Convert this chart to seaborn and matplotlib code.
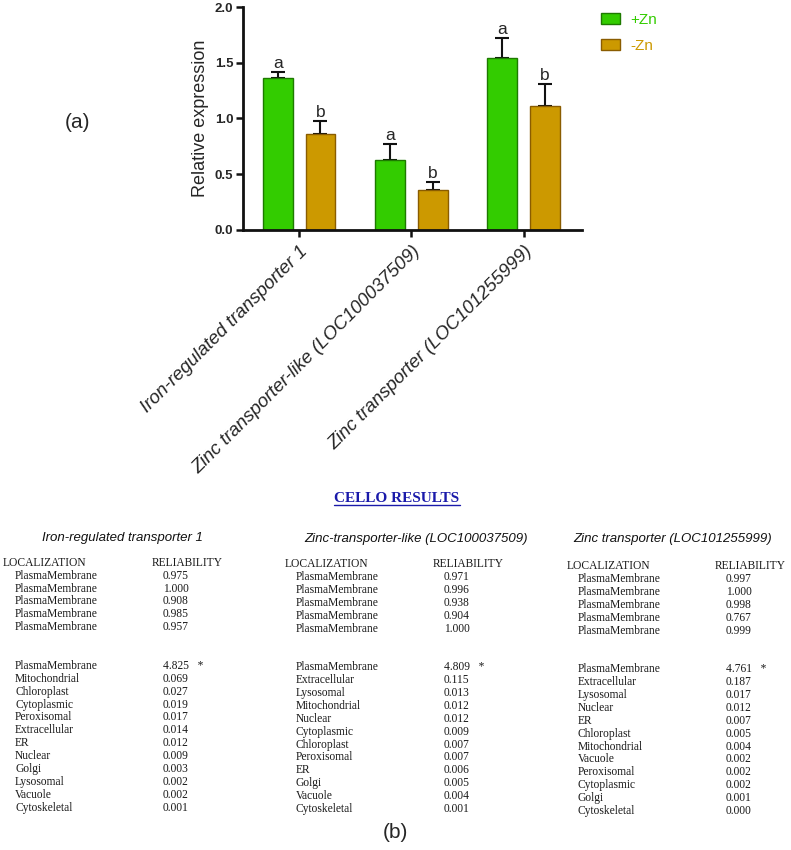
import matplotlib
matplotlib.use("Agg")
import matplotlib.pyplot as plt
import seaborn as sns
import pandas as pd
from matplotlib.patches import Patch
from matplotlib.lines import Line2D

# (a) bar chart data
GENES = [
    "Iron-regulated transporter 1",
    "Zinc transporter-like (LOC100037509)",
    "Zinc transporter (LOC101255999)",
]
TREATMENTS = ["+Zn", "-Zn"]
MEAN_PLUS_ZN = [1.36, 0.63, 1.54]
MEAN_MINUS_ZN = [0.86, 0.36, 1.11]
ERR_PLUS_ZN = [0.06, 0.14, 0.18]
ERR_MINUS_ZN = [0.12, 0.07, 0.20]
LETTERS_PLUS_ZN = ["a", "a", "a"]
LETTERS_MINUS_ZN = ["b", "b", "b"]
Y_TICKS = [0.0, 0.5, 1.0, 1.5, 2.0]

# (b) CELLO results tables
TABLE_TITLES = [
    "Iron-regulated transporter 1",
    "Zinc-transporter-like (LOC100037509)",
    "Zinc transporter (LOC101255999)",
]
TOP_LOC = ["PlasmaMembrane"] * 5
TOP_REL_1 = ["0.975", "1.000", "0.908", "0.985", "0.957"]
TOP_REL_2 = ["0.971", "0.996", "0.938", "0.904", "1.000"]
TOP_REL_3 = ["0.997", "1.000", "0.998", "0.767", "0.999"]
LOC_1 = ["PlasmaMembrane", "Mitochondrial", "Chloroplast", "Cytoplasmic", "Peroxisomal",
         "Extracellular", "ER", "Nuclear", "Golgi", "Lysosomal", "Vacuole", "Cytoskeletal"]
REL_1 = ["4.825", "0.069", "0.027", "0.019", "0.017", "0.014", "0.012", "0.009",
         "0.003", "0.002", "0.002", "0.001"]
LOC_2 = ["PlasmaMembrane", "Extracellular", "Lysosomal", "Mitochondrial", "Nuclear",
         "Cytoplasmic", "Chloroplast", "Peroxisomal", "ER", "Golgi", "Vacuole", "Cytoskeletal"]
REL_2 = ["4.809", "0.115", "0.013", "0.012", "0.012", "0.009", "0.007", "0.007",
         "0.006", "0.005", "0.004", "0.001"]
LOC_3 = ["PlasmaMembrane", "Extracellular", "Lysosomal", "Nuclear", "ER", "Chloroplast",
         "Mitochondrial", "Vacuole", "Peroxisomal", "Cytoplasmic", "Golgi", "Cytoskeletal"]
REL_3 = ["4.761", "0.187", "0.017", "0.012", "0.007", "0.005", "0.004", "0.002",
         "0.002", "0.002", "0.001", "0.000"]

GREEN = "#33cc00"
ORANGE = "#cc9900"
EDGE = {"+Zn": "#1e7a00", "-Zn": "#8a5c00"}

W, H = 791, 850


def px(x, y):
    return x / W, 1 - y / H


sns.set_style("white")
plt.rcParams["font.family"] = ["Liberation Sans", "DejaVu Sans"]

fig = plt.figure(figsize=(W / 100, H / 100), dpi=100)
ax = fig.add_axes([243 / W, 1 - 230 / H, (582 - 243) / W, (230 - 7) / H])

df = pd.DataFrame({
    "gene": GENES * 2,
    "treatment": [TREATMENTS[0]] * 3 + [TREATMENTS[1]] * 3,
    "value": MEAN_PLUS_ZN + MEAN_MINUS_ZN,
})
sns.barplot(data=df, x="gene", y="value", hue="treatment", order=GENES,
            hue_order=TREATMENTS, palette=[GREEN, ORANGE], width=0.76, gap=0.3,
            errorbar=None, legend=False, saturation=1, ax=ax)

errs = [ERR_PLUS_ZN, ERR_MINUS_ZN]
letters = [LETTERS_PLUS_ZN, LETTERS_MINUS_ZN]
bar_containers = list(ax.containers)
for k, cont in enumerate(bar_containers):
    xs, tops = [], []
    for p in cont.patches:
        p.set_edgecolor(EDGE[TREATMENTS[k]])
        p.set_linewidth(1.0)
        p.set_zorder(2)
        xs.append(p.get_x() + p.get_width() / 2)
        tops.append(p.get_height())
    ax.errorbar(xs, tops, yerr=[[0] * len(xs), errs[k]], fmt="none", ecolor="#111111",
                elinewidth=1.5, capsize=5, capthick=1.5, zorder=1)
    for x, t, e, lab in zip(xs, tops, errs[k], letters[k]):
        ax.text(x, t + e + 0.01, lab, ha="center", va="bottom", fontsize=12.5)

ax.set_ylim(0, 2.0)
ax.set_xlim(-0.5, 2.52)
ax.set_yticks(Y_TICKS)
ax.set_yticklabels([f"{v:.1f}" for v in Y_TICKS], fontweight="bold", fontsize=9.5)
ax.set_xticks(range(len(GENES)))
ax.set_xticklabels(GENES, rotation=45, ha="right", rotation_mode="anchor",
                   fontstyle="italic", fontsize=13.5)
ax.set_xlabel("")
ax.set_ylabel("Relative expression", fontsize=13, labelpad=4)
ax.tick_params(axis="both", direction="out", length=5, width=1.8, color="#111111",
               bottom=True, left=True)
ax.tick_params(axis="y", pad=2)
ax.tick_params(axis="x", pad=4)
sns.despine(ax=ax)
for s in ["left", "bottom"]:
    ax.spines[s].set_linewidth(2)
    ax.spines[s].set_color("#111111")

handles = [Patch(facecolor=GREEN, edgecolor=EDGE["+Zn"]),
           Patch(facecolor=ORANGE, edgecolor=EDGE["-Zn"])]
fig.legend(handles, TREATMENTS, loc="upper left", bbox_to_anchor=px(601, 13),
           frameon=False, borderpad=0, borderaxespad=0, fontsize=11,
           handlelength=1.25, handleheight=0.75, handletextpad=0.65,
           labelspacing=0.8, labelcolor=[GREEN, ORANGE])

fig.text(*px(77, 123), "(a)", fontsize=15, ha="center", va="center")
fig.text(*px(395, 832), "(b)", fontsize=15, ha="center", va="center")

# CELLO header with underline
cello = fig.text(*px(397, 499), "CELLO RESULTS", fontsize=11, fontweight="bold",
                 family=["Liberation Serif"], color="#1a1aaa", ha="center", va="center")
fig.canvas.draw()
bb = cello.get_window_extent().transformed(fig.transFigure.inverted())
fig.add_artist(Line2D([bb.x0, bb.x1], [bb.y0 + 0.001, bb.y0 + 0.001],
                      transform=fig.transFigure, color="#1a1aaa", lw=1))

tables = [
    (TABLE_TITLES[0], 122, 538, 562.7, (3, 15, 152, 163), TOP_REL_1, LOC_1, REL_1),
    (TABLE_TITLES[1], 416, 539, 564.0, (285, 296, 433, 444), TOP_REL_2, LOC_2, REL_2),
    (TABLE_TITLES[2], 673, 539, 566.0, (567, 578, 715, 726), TOP_REL_3, LOC_3, REL_3),
]
ROW = 12.9
serif = ["Liberation Serif"]
tcol = "#1a1a1a"
for title, tx, ty, hy, (lx, ex, rx, vx), top_rel, locs, rels in tables:
    fig.text(*px(tx, ty), title, fontsize=9.5, fontstyle="italic", ha="center",
             va="center", color="#111111")
    fig.text(*px(lx, hy), "LOCALIZATION", fontsize=8.3, family=serif, va="center", color=tcol)
    fig.text(*px(rx, hy), "RELIABILITY", fontsize=8.3, family=serif, va="center", color=tcol)
    for i, (loc, rel) in enumerate(zip(TOP_LOC, top_rel)):
        y = hy + (i + 1) * ROW
        fig.text(*px(ex, y), loc, fontsize=8.3, family=serif, va="center", color=tcol)
        fig.text(*px(vx, y), rel, fontsize=8.3, family=serif, va="center", color=tcol)
    for i, (loc, rel) in enumerate(zip(locs, rels)):
        y = hy + (i + 8) * ROW
        fig.text(*px(ex, y), loc, fontsize=8.3, family=serif, va="center", color=tcol)
        fig.text(*px(vx, y), rel + ("   *" if i == 0 else ""), fontsize=8.3,
                 family=serif, va="center", color=tcol)

fig.savefig("out.png", dpi=100)
